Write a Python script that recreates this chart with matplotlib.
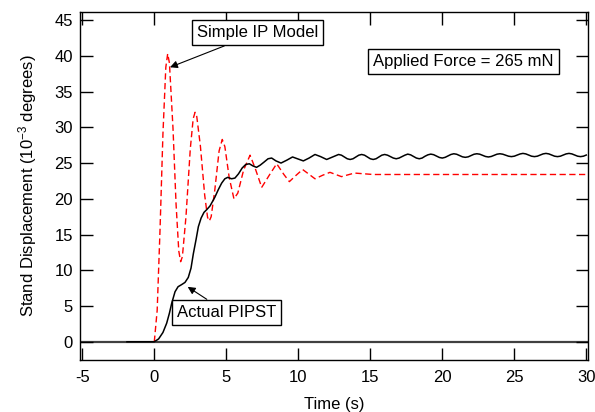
import matplotlib
matplotlib.use('Agg')
import matplotlib.pyplot as plt

# ---- data ----
t_model = [0.0, 0.2, 0.4, 0.6, 0.8, 0.93, 1.05, 1.3, 1.51, 1.7, 1.83,
           1.95, 2.2, 2.5, 2.7, 2.83, 2.95, 3.2, 3.5, 3.7, 3.82,
           3.95, 4.2, 4.5, 4.72, 4.9, 5.2, 5.53, 5.8, 6.2, 6.65,
           7.0, 7.46, 8.0, 8.5, 9.0, 9.38, 9.8, 10.3, 10.7, 11.16,
           11.7, 12.2, 13.0, 13.9, 15.2, 20.0, 25.0, 30.0]
y_model = [0.0, 4.4, 15.8, 29.1, 38.4, 40.3, 39.0, 29.8, 19.3, 12.7, 11.2,
           11.9, 17.5, 27.0, 31.2, 32.1, 31.5, 27.4, 20.5, 17.4, 16.9,
           17.5, 21.2, 26.7, 28.3, 27.3, 23.0, 20.0, 20.8, 24.0, 26.1,
           24.3, 21.6, 23.35, 24.9, 23.4, 22.4, 23.2, 24.1, 23.5, 22.8,
           23.3, 23.7, 23.1, 23.6, 23.4, 23.4, 23.4, 23.4]

t_actual = [-1.9, -1.0, 0.0, 0.3, 0.6, 0.86, 1.05, 1.21, 1.44, 1.65, 1.9,
            2.13, 2.36, 2.55, 2.71, 2.9, 3.06, 3.25, 3.45, 3.65, 3.87,
            4.2, 4.45, 4.68, 4.9, 5.1, 5.37, 5.6, 5.85, 6.1, 6.35,
            6.6, 6.85, 7.1, 7.35, 7.6, 7.9, 8.15, 8.45, 8.8, 9.2,
            9.6, 9.95, 10.35, 10.75, 11.16, 11.55, 11.97, 12.38,
            12.8, 13.0, 13.2, 13.4, 13.6, 13.8, 14.0, 14.2,
            14.4, 14.6, 14.8, 15.0, 15.2, 15.4, 15.6, 15.8,
            16.0, 16.2, 16.4, 16.6, 16.8, 17.0, 17.2, 17.4,
            17.6, 17.8, 18.0, 18.2, 18.4, 18.6, 18.8, 19.0,
            19.2, 19.4, 19.6, 19.8, 20.0, 20.2, 20.4, 20.6,
            20.8, 21.0, 21.2, 21.4, 21.6, 21.8, 22.0, 22.2,
            22.4, 22.6, 22.8, 23.0, 23.2, 23.4, 23.6, 23.8,
            24.0, 24.2, 24.4, 24.6, 24.8, 25.0, 25.2, 25.4,
            25.6, 25.8, 26.0, 26.2, 26.4, 26.6, 26.8, 27.0,
            27.2, 27.4, 27.6, 27.8, 28.0, 28.2, 28.4, 28.6,
            28.8, 29.0, 29.2, 29.4, 29.6, 29.8, 30.0]
y_actual = [0.0, 0.0, 0.0, 0.4, 1.3, 2.6, 4.0, 5.4, 7.0, 7.7, 8.0,
            8.3, 9.0, 10.3, 12.3, 14.3, 16.1, 17.3, 18.1, 18.5, 19.0,
            20.2, 21.3, 22.2, 22.8, 23.0, 22.8, 22.9, 23.5, 24.3, 24.8,
            24.9, 24.6, 24.4, 24.7, 25.1, 25.6, 25.7, 25.3, 25.0, 25.4,
            25.85, 25.6, 25.3, 25.7, 26.2, 25.9, 25.5, 25.85,
            26.2, 26.1, 25.85, 25.6, 25.5, 25.6, 25.85, 26.1,
            26.2, 26.1, 25.85, 25.6, 25.5, 25.6, 25.85, 26.1,
            26.2, 26.1, 25.9, 25.7, 25.6, 25.7, 25.9, 26.1,
            26.25, 26.15, 25.93, 25.7, 25.6, 25.7, 25.95, 26.15,
            26.25, 26.17, 25.98, 25.78, 25.7, 25.8, 26.0, 26.2,
            26.3, 26.23, 26.05, 25.87, 25.8, 25.87, 26.05, 26.23,
            26.3, 26.24, 26.08, 25.92, 25.85, 25.92, 26.08, 26.24,
            26.3, 26.24, 26.1, 25.96, 25.9, 25.96, 26.12, 26.27,
            26.35, 26.28, 26.12, 25.96, 25.9, 25.96, 26.12, 26.28,
            26.35, 26.28, 26.12, 25.96, 25.9, 25.96, 26.12, 26.28,
            26.35, 26.28, 26.12, 25.96, 25.9, 25.96, 26.12]

x_ticks = [-5, 0, 5, 10, 15, 20, 25, 30]
y_ticks = [0, 5, 10, 15, 20, 25, 30, 35, 40, 45]

plt.rcParams['font.family'] = ['Liberation Sans', 'DejaVu Sans']
plt.rcParams['axes.unicode_minus'] = False
plt.rcParams['mathtext.default'] = 'regular'

fig = plt.figure(figsize=(5.95, 4.12), dpi=100)
ax = fig.add_axes([80 / 595, 1 - 360 / 412, 508 / 595, 348.5 / 412])

ax.axhline(0, color='#404040', lw=1.6, zorder=1)
ax.plot(t_model, y_model, color='red', lw=1.0, dashes=(4.5, 2.5), zorder=3)
ax.plot(t_actual, y_actual, color='black', lw=1.1, zorder=4)

ax.set_xlim(-5.16, 30.12)
ax.set_ylim(-2.55, 46.2)
ax.set_xticks(x_ticks)
ax.set_yticks(y_ticks)
ax.tick_params(direction='in', length=9, width=1.0, labelsize=12,
               top=True, right=True, pad=7)
ax.tick_params(axis='y', pad=5)
for s in ax.spines.values():
    s.set_linewidth(1.0)

ax.set_xlabel('Time (s)', fontsize=12, labelpad=9)
ax.set_ylabel('Stand Displacement (10$^{-3}$ degrees)', fontsize=12, labelpad=11)

box = dict(boxstyle='square,pad=0.3', fc='white', ec='black', lw=1.0)
arrow = dict(arrowstyle='-|>', color='black', lw=0.8, shrinkA=0, shrinkB=0,
             mutation_scale=11)
ax.annotate('Simple IP Model', xy=(1.09, 38.4), xytext=(7.16, 43.2),
            ha='center', va='center', fontsize=12, bbox=box, arrowprops=arrow,
            zorder=6)
ax.annotate('Actual PIPST', xy=(2.32, 7.68), xytext=(5.03, 4.12),
            ha='center', va='center', fontsize=12, bbox=box, arrowprops=arrow,
            zorder=6)
ax.text(21.47, 39.2, 'Applied Force = 265 mN', ha='center', va='center',
        fontsize=12, bbox=box, zorder=6)

fig.savefig('out.png', dpi=100)
